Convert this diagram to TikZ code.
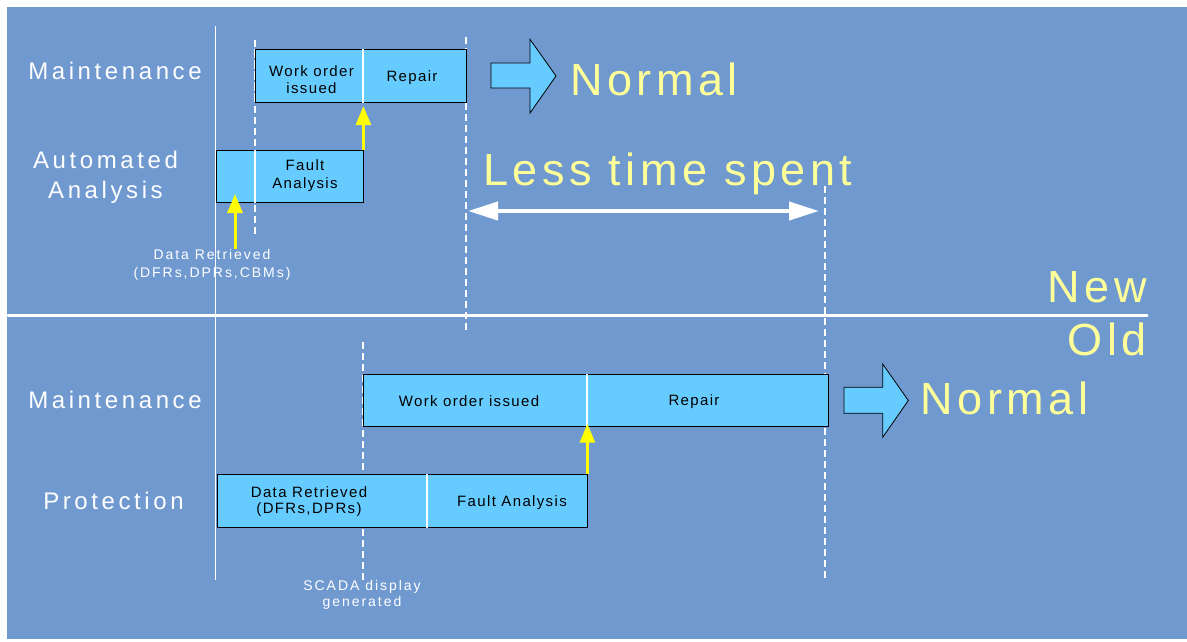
\documentclass[tikz,border=0pt]{standalone}
\usepackage{fontspec}
\setmainfont{Liberation Sans}
\newfontfamily\lblfont[LetterSpace=15]{Liberation Sans}
\newfontfamily\bigfont[LetterSpace=10]{Liberation Sans}
\newfontfamily\boxfont[LetterSpace=9]{Liberation Sans}
\newfontfamily\notefont[LetterSpace=14]{Liberation Sans}
\usetikzlibrary{arrows.meta}

\definecolor{panelblue}{RGB}{112,153,208}
\definecolor{boxcyan}{RGB}{102,204,255}
\definecolor{headyellow}{RGB}{255,255,153}
\definecolor{markyellow}{RGB}{255,255,0}

\begin{document}
\begin{tikzpicture}[x=1pt,y=-1pt,
  seg/.style={draw=black, line width=0.8pt, fill=boxcyan, inner sep=0pt},
  divider/.style={draw=white, line width=2pt},
  guide/.style={draw=white, line width=1pt},
  dashguide/.style={draw=white, line width=1.2pt, dash pattern=on 7pt off 4pt},
  blockarrow/.style={draw=black, line width=0.8pt, fill=boxcyan, line join=miter},
  yarrow/.style={draw=markyellow, line width=3pt, -{Triangle[length=19pt,width=15pt]}},
  span/.style={draw=white, line width=4pt,
    {Triangle[length=30pt,width=18pt]}-{Triangle[length=30pt,width=18pt]}},
  lbl/.style={inner sep=0pt, anchor=base, align=center, text=white,
    font=\lblfont\fontsize{24}{30}\selectfont},
  big/.style={inner sep=0pt, text=headyellow,
    font=\bigfont\fontsize{45}{50}\selectfont},
  boxtext/.style={inner sep=0pt, anchor=base, align=center, text=black,
    font=\boxfont\fontsize{15}{18}\selectfont},
  note/.style={inner sep=0pt, anchor=base, align=center, text=white,
    font=\notefont\fontsize{14}{18.5}\selectfont}]

\useasboundingbox (0,0) rectangle (1187,641);
\fill[panelblue] (7,7) rectangle (1187,639);

% time guides
\coordinate (g0t) at (215,26);   \coordinate (g0b) at (215,580);
\coordinate (g1t) at (255,40);   \coordinate (g1b) at (255,237);
\coordinate (g2t) at (466,37);   \coordinate (g2b) at (466,333);
\coordinate (g3t) at (363,342);  \coordinate (g3b) at (363,580);
\coordinate (g4t) at (825,186);  \coordinate (g4b) at (825,580);
\draw[guide] (g0t) -- (g0b);
\draw[dashguide] (g1t) -- (g1b);
\draw[dashguide] (g2t) -- (g2b);
\draw[dashguide] (g3t) -- (g3b);
\draw[dashguide] (g4t) -- (g4b);

% New / Old separator
\draw[white, line width=3pt, line cap=round] (8,315.5) -- (1147,315.5);

% ---- new process ----
\node[seg, minimum width=108pt, minimum height=53.4pt] (wo1) at (309,76) {};
\node[seg, minimum width=103pt, minimum height=53.4pt] (rp1) at (414.5,76) {};
\node[seg, minimum width=39pt,  minimum height=52.3pt] (fa0) at (235.5,176.15) {};
\node[seg, minimum width=108pt, minimum height=52.3pt] (fa1) at (309,176.15) {};
\draw[divider] (wo1.north east) -- (wo1.south east);
\draw[divider] (fa0.north east) -- (fa0.south east);
\draw[dashguide] (wo1.north west) -- (wo1.south west);

% multi-line texts are placed by the baseline of their last line
\node[boxtext] (wo1t) at (311.5,93.3) {Work order\\[-1pt]issued};
\node[boxtext] (rp1t) at (412,81) {Repair};
\node[boxtext] (fa1t) at (305,188.3) {Fault\\[-0.5pt]Analysis};

\draw[yarrow, shorten >=3pt] (fa1.north east) -- (wo1.south east);

\node[note] (drn) at (212,277.7) {Data Retrieved\\(DFRs,DPRs,CBMs)};
\coordinate (drtip) at (235,194);
\draw[yarrow] (drn.north -| drtip) -- (drtip);

\draw[blockarrow] (491,63) -- (530,63) -- (530,39.3) -- (556,76)
  -- (530,113) -- (530,88) -- (491,88) -- cycle;
\node[big, anchor=base west] (n1) at (570,95) {Normal};

\node[big, anchor=base west] (lts) at (483,185.7) {Less time spent};
\coordinate (spanl) at (468,211);
\coordinate (spanr) at (819,211);
\draw[span] (spanl) -- (spanr);

\node[big, anchor=base east] (newl) at (1147,302.7) {New};
\node[big, anchor=base east] (oldl) at (1147,355) {Old};

\node[lbl] (m1) at (115,79.3) {Maintenance};
\node[lbl] (aa) at (105.5,198.3) {Automated\\Analysis};

% ---- old process ----
\node[seg, minimum width=224pt, minimum height=52.7pt] (wo2) at (475,400.35) {};
\node[seg, minimum width=241pt, minimum height=52.7pt] (rp2) at (707.5,400.35) {};
\node[seg, minimum width=210pt, minimum height=53.3pt] (dr2) at (322,500.65) {};
\node[seg, minimum width=160pt, minimum height=53.3pt] (fa2) at (507,500.65) {};
\draw[divider] (wo2.north east) -- (wo2.south east);
\draw[divider] (dr2.north east) -- (dr2.south east);

\node[boxtext] (wo2t) at (469,406.7) {Work order issued};
\node[boxtext] (rp2t) at (694,405) {Repair};
\node[boxtext] (dr2t) at (309,513.5) {Data Retrieved\\[-1.5pt](DFRs,DPRs)};
\node[boxtext] (fa2t) at (512,506) {Fault Analysis};

\draw[yarrow, shorten >=-3.4pt] (fa2.north east) -- (wo2.south east);

\draw[blockarrow] (844,387.3) -- (882.7,387.3) -- (882.7,364) -- (908.3,400.5)
  -- (882.7,437.3) -- (882.7,413.3) -- (844,413.3) -- cycle;
\node[big, anchor=base west] (n2) at (920.7,414) {Normal};

\node[lbl] (m2) at (115,408.3) {Maintenance};
\node[lbl] (pr) at (113.5,509.3) {Protection};

\node[note, font=\notefont\fontsize{14}{16}\selectfont] (scn) at (362,606.7) {SCADA display\\generated};

\end{tikzpicture}
\end{document}
